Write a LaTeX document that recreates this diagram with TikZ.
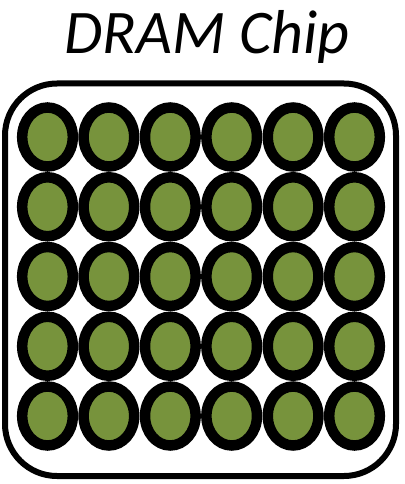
\documentclass[tikz,border=0pt]{standalone}
\usepackage{fontspec}
\setmainfont{Carlito}
\definecolor{cellgreen}{HTML}{77933C}
\begin{document}
\begin{tikzpicture}[x=1pt,y=-1pt,
  cell/.style={draw=black,fill=cellgreen,line width=10.5pt},
  chip/.style={draw=black,line width=6pt,rounded corners=52pt}]
\useasboundingbox (0,0) rectangle (404,484);
\node[anchor=base,font=\itshape\fontsize{62}{66}\selectfont,inner sep=0pt] (title) at (207,54) {DRAM Chip};
\draw[chip] (5,83.5) rectangle (396,476);
\foreach \c [count=\i] in {0,...,5}{
  \foreach \r [count=\j] in {0,...,4}{
    \draw[cell] ({47.5+61.4*\c},{137+69.75*\r}) ellipse [x radius=25.3pt,y radius=29.5pt];
  }
}
\end{tikzpicture}
\end{document}
